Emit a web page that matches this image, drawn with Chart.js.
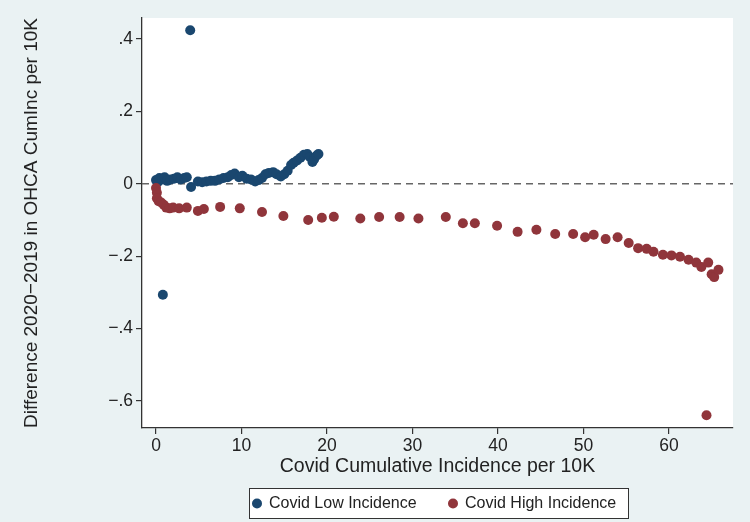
<!DOCTYPE html>
<html>
<head>
<meta charset="utf-8">
<script src="https://cdn.jsdelivr.net/npm/chart.js@4.4.1/dist/chart.umd.min.js"></script>
<style>
  html, body { margin: 0; padding: 0; background: #eaf2f3; }
  #wrap { width: 750px; height: 522px; }
</style>
</head>
<body>
<div id="wrap"><canvas id="chart" width="750" height="522"></canvas></div>
<script>
// Covid low incidence group
const lowX = [0.0, 0.2, 0.4, 0.7, 0.8, 1.0, 1.3, 1.7, 2.1, 2.5, 2.9, 3.3, 3.6, 4.0, 4.1, 4.9, 5.4, 5.9, 6.4, 6.9,
    7.4, 7.9, 8.4, 8.8, 9.2, 9.7, 10.1, 10.6, 11.1, 11.6, 12.0, 12.4, 12.8, 13.2, 13.7, 14.1, 14.6, 15.0,
    15.4, 15.8, 16.1, 16.5, 16.9, 17.3, 17.7, 18.0, 18.3, 18.5, 18.8, 19.0];
const lowY = [0.010, 0.004, 0.016, 0.012, -0.307, 0.018, 0.008, 0.012, 0.014, 0.018, 0.012, 0.016, 0.018, 0.424, -0.009,
    0.006, 0.004, 0.006, 0.008, 0.008, 0.012, 0.016, 0.018, 0.024, 0.028, 0.018, 0.022, 0.014, 0.012, 0.006,
    0.010, 0.016, 0.026, 0.030, 0.032, 0.026, 0.020, 0.026, 0.036, 0.052, 0.058, 0.064, 0.072, 0.080, 0.082,
    0.074, 0.060, 0.068, 0.078, 0.082];

// Covid high incidence group
const highX = [0.0, 0.1, 0.1, 0.3, 0.6, 0.9, 1.2, 1.6, 2.0, 2.7, 3.6, 4.9, 5.6, 7.5, 9.8, 12.4, 14.9, 17.8, 19.4,
    20.8, 23.9, 26.1, 28.5, 30.7, 33.9, 35.9, 37.3, 39.9, 42.3, 44.5, 46.7, 48.8, 50.2, 51.2, 52.6, 54.0,
    55.3, 56.4, 57.4, 58.2, 59.3, 60.3, 61.3, 62.3, 63.2, 63.8, 64.4, 64.6, 65.0, 65.3, 65.8];
const highY = [-0.012, -0.025, -0.040, -0.048, -0.052, -0.058, -0.066, -0.068, -0.066, -0.068, -0.066, -0.075,
    -0.070, -0.064, -0.068, -0.078, -0.089, -0.100, -0.094, -0.091, -0.096, -0.092, -0.092, -0.096, -0.092,
    -0.109, -0.109, -0.116, -0.133, -0.127, -0.139, -0.139, -0.148, -0.141, -0.153, -0.148, -0.164, -0.178,
    -0.180, -0.188, -0.196, -0.198, -0.202, -0.210, -0.218, -0.230, -0.640, -0.218, -0.250, -0.258, -0.238];

const xTicks = [0, 10, 20, 30, 40, 50, 60];
const yTicks = [-0.6, -0.4, -0.2, 0, 0.2, 0.4];
const seriesNames = ["Covid Low Incidence", "Covid High Incidence"];
const seriesColors = ["#1a476f", "#90353b"];

const FONT = "'Liberation Sans', Arial, Helvetica, sans-serif";

function toPoints(xs, ys) {
    return xs.map((x, i) => ({ x: x, y: ys[i] }));
}

function fmtY(v) {
    if (Math.abs(v) < 1e-9) return "0";
    const s = Math.abs(v).toFixed(1).replace(/^0/, "");
    return (v < 0 ? "\u2212" : "") + s;
}

// white plot region, dashed zero line, framed legend
const stataLook = {
    id: "stataLook",
    beforeDraw(chart) {
        const { ctx, chartArea: a } = chart;
        ctx.save();
        ctx.fillStyle = "#eaf2f3";
        ctx.fillRect(0, 0, chart.width, chart.height);
        ctx.fillStyle = "#ffffff";
        ctx.fillRect(a.left, a.top, a.right - a.left, a.bottom - a.top);
        ctx.restore();
    },
    beforeDatasetsDraw(chart) {
        const { ctx, chartArea: a } = chart;
        const y0 = chart.scales.y.getPixelForValue(0);
        ctx.save();
        ctx.strokeStyle = "#666666";
        ctx.lineWidth = 1.5;
        ctx.setLineDash([7, 5]);
        ctx.beginPath();
        ctx.moveTo(a.left, y0);
        ctx.lineTo(a.right, y0);
        ctx.stroke();
        ctx.restore();
    },
    afterDraw(chart) {
        const { ctx } = chart;
        const boxL = 249, boxT = 488, boxW = 379, boxH = 30;
        ctx.save();
        ctx.fillStyle = "#ffffff";
        ctx.fillRect(boxL, boxT, boxW, boxH);
        ctx.strokeStyle = "#333333";
        ctx.lineWidth = 1;
        ctx.strokeRect(boxL + 0.5, boxT + 0.5, boxW, boxH);
        ctx.font = "16px " + FONT;
        ctx.textBaseline = "middle";
        const cy = boxT + boxH / 2 + 0.5;
        const itemX = [257, 453];
        seriesNames.forEach((name, i) => {
            ctx.fillStyle = seriesColors[i];
            ctx.beginPath();
            ctx.arc(itemX[i], cy, 5, 0, Math.PI * 2);
            ctx.fill();
            ctx.fillStyle = "#222222";
            ctx.fillText(name, itemX[i] + 12, cy);
        });
        ctx.restore();
    }
};

new Chart(document.getElementById("chart"), {
    type: "scatter",
    data: {
        datasets: [
            {
                label: seriesNames[0],
                data: toPoints(lowX, lowY),
                backgroundColor: seriesColors[0],
                borderWidth: 0,
                pointRadius: 5,
                order: 2
            },
            {
                label: seriesNames[1],
                data: toPoints(highX, highY),
                backgroundColor: seriesColors[1],
                borderWidth: 0,
                pointRadius: 5,
                order: 1
            }
        ]
    },
    options: {
        responsive: false,
        animation: false,
        layout: {
            padding: { top: 18, right: 17, bottom: 36, left: 0 }
        },
        plugins: {
            legend: { display: false },
            tooltip: { enabled: false }
        },
        scales: {
            x: {
                type: "linear",
                min: -1.64,
                max: 67.5,
                afterBuildTicks: s => { s.ticks = xTicks.map(v => ({ value: v })); },
                afterFit: s => { s.height = 58; },
                grid: {
                    drawOnChartArea: false,
                    drawTicks: true,
                    tickLength: 6,
                    color: "#333333",
                    lineWidth: 1.2
                },
                border: { display: true, color: "#333333", width: 1.3 },
                ticks: {
                    padding: 2,
                    color: "#222222",
                    maxRotation: 0,
                    font: { family: FONT, size: 17.5 }
                },
                title: {
                    display: true,
                    text: "Covid Cumulative Incidence per 10K",
                    color: "#222222",
                    padding: { top: 0, bottom: 8 },
                    font: { family: FONT, size: 19.5 }
                }
            },
            y: {
                type: "linear",
                min: -0.675,
                max: 0.458,
                afterBuildTicks: s => { s.ticks = yTicks.map(v => ({ value: v })); },
                afterFit: s => { s.width = 142; },
                grid: {
                    drawOnChartArea: false,
                    drawTicks: true,
                    tickLength: 6,
                    color: "#333333",
                    lineWidth: 1.2
                },
                border: { display: true, color: "#333333", width: 1.3 },
                ticks: {
                    padding: 3,
                    color: "#222222",
                    font: { family: FONT, size: 17.5 },
                    callback: v => fmtY(v)
                },
                title: {
                    display: true,
                    text: "Difference 2020\u22122019 in OHCA CumInc per 10K",
                    color: "#222222",
                    padding: { top: 20, bottom: 0 },
                    font: { family: FONT, size: 19 }
                }
            }
        }
    },
    plugins: [stataLook]
});
</script>
</body>
</html>
